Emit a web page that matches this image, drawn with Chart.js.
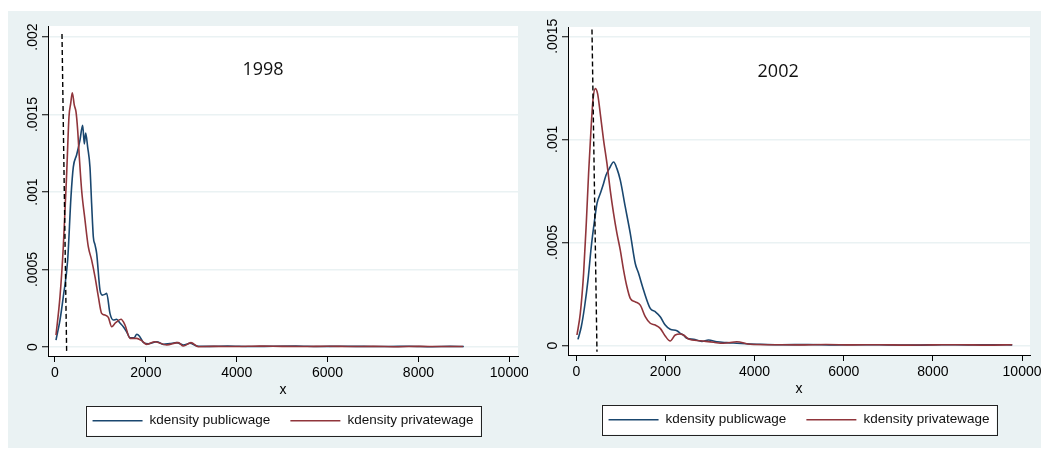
<!DOCTYPE html>
<html>
<head>
<meta charset="utf-8">
<script src="https://cdn.jsdelivr.net/npm/chart.js@4"></script>
<style>
  body { margin: 0; background: #fff; width: 1041px; height: 450px; position: relative; overflow: hidden; }
  #bg { position: absolute; left: 8px; top: 11px; width: 1033px; height: 437px; background: #eaf2f3; }
  .panel { position: absolute; top: 11px; height: 437px; }
  #p1 { left: 8px; width: 520px; }
  #p2 { left: 528px; width: 513px; }
</style>
</head>
<body>
<div id="bg"></div>
<div class="panel" id="p1"><canvas id="c1998"></canvas></div>
<div class="panel" id="p2"><canvas id="c2002"></canvas></div>
<script>
var xTicks = [0, 2000, 4000, 6000, 8000, 10000];
var yTicks1998 = [0, 0.0005, 0.001, 0.0015, 0.002];
var yTicks2002 = [0, 0.0005, 0.001, 0.0015];
var seriesNames = ['kdensity publicwage', 'kdensity privatewage'];

// 1998
var pub98X = [22, 110, 183, 279, 352, 403, 477, 550, 609, 646, 675, 719, 770, 807, 844, 880, 917, 990, 1042, 1100, 1137, 1210, 1284, 1357, 1430, 1504, 1577, 1651, 1740, 1800, 1860, 1944, 2054, 2238, 2385, 2530, 2679, 2825, 2971, 3119, 3400, 3800, 4300, 4800, 5300, 5800, 6300, 6800, 7300, 7800, 8300, 8700, 9000];
var pub98Y = [0.000045, 0.000174, 0.000325, 0.000561, 0.00097, 0.00116, 0.00124, 0.001335, 0.00143, 0.00131, 0.00138, 0.00129, 0.00116, 0.00092, 0.00071, 0.00066, 0.000604, 0.000368, 0.000335, 0.00034, 0.000346, 0.000217, 0.000174, 0.000179, 0.000155, 0.000131, 0.0000987, 0.00006, 0.00006, 0.000082, 0.00007, 0.00003, 0.00002, 0.000034, 0.000017, 0.000022, 0.000028, 0.000013, 0.000024, 0.000007, 0.000004, 0.000006, 0.000003, 0.000005, 0.000006, 0.000003, 0.000005, 0.000004, 0.000003, 0.000005, 0.000002, 0.000004, 0.000003];
var priv98X = [22, 110, 183, 257, 308, 345, 381, 425, 462, 499, 535, 587, 660, 733, 807, 880, 954, 1027, 1100, 1174, 1247, 1335, 1453, 1541, 1651, 1798, 1908, 2018, 2201, 2458, 2714, 2825, 2993, 3154, 3500, 4000, 4500, 5000, 5500, 6000, 6500, 7000, 7500, 8000, 8500, 8980];
var priv98Y = [0.000077, 0.000325, 0.000647, 0.00112, 0.001486, 0.00157, 0.00164, 0.00156, 0.001518, 0.0014, 0.001228, 0.00101, 0.00082, 0.000647, 0.000561, 0.000454, 0.000325, 0.000217, 0.000206, 0.000191, 0.000131, 0.000157, 0.000179, 0.000142, 0.000056, 0.000056, 0.000041, 0.000017, 0.000034, 0.000013, 0.000028, 0.0000065, 0.000028, 0.000002, 0.000004, 0.000003, 0.000006, 0.000004, 0.000003, 0.000005, 0.000003, 0.000004, 0.000002, 0.000004, 0.000003, 0.000003];
var cut98X = [154, 257];
var cut98Y = [0.00202, -0.00004];

// 2002
var pub02X = [38, 112, 186, 262, 336, 410, 464, 538, 612, 666, 740, 837, 912, 987, 1099, 1211, 1323, 1397, 1509, 1659, 1771, 1883, 1995, 2107, 2257, 2332, 2406, 2481, 2630, 2818, 2966, 3154, 3379, 3603, 3901, 4125, 4600, 5200, 5800, 6400, 7000, 7600, 8200, 8800, 9400, 9780];
var pub02Y = [0.00003, 0.000091, 0.000188, 0.000317, 0.000479, 0.000608, 0.000689, 0.000737, 0.000786, 0.000826, 0.000858, 0.00089, 0.000858, 0.000802, 0.000672, 0.000544, 0.000398, 0.00035, 0.000269, 0.00018, 0.000164, 0.00014, 0.0000993, 0.0000785, 0.0000717, 0.000059, 0.00005, 0.000035, 0.00003, 0.00002, 0.000027, 0.000018, 0.000014, 0.000011, 0.000007, 0.000006, 0.000004, 0.000005, 0.000003, 0.000004, 0.000003, 0.000002, 0.000004, 0.000003, 0.000004, 0.000003];
var priv02X = [15, 90, 164, 224, 276, 329, 374, 426, 478, 538, 612, 688, 762, 837, 912, 987, 1061, 1136, 1211, 1323, 1435, 1547, 1659, 1771, 1883, 1995, 2107, 2220, 2332, 2406, 2518, 2780, 3079, 3303, 3603, 3901, 4400, 5000, 5600, 6200, 6800, 7400, 8000, 8600, 9200, 9780];
var priv02Y = [0.000051, 0.000156, 0.00035, 0.000592, 0.000834, 0.001044, 0.00119, 0.001246, 0.001222, 0.001125, 0.000996, 0.000883, 0.000753, 0.00064, 0.000544, 0.000463, 0.000366, 0.000285, 0.000229, 0.000212, 0.000196, 0.00014, 0.000108, 0.0000993, 0.0000833, 0.000046, 0.000022, 0.000051, 0.000056, 0.000051, 0.0000315, 0.0000233, 0.0000155, 0.0000107, 0.0000184, 0.0000058, 0.000004, 0.000003, 0.000005, 0.000003, 0.000004, 0.000002, 0.000003, 0.000004, 0.000002, 0.000004];
var cut02X = [352, 464];
var cut02Y = [0.001533, -0.00003];

function pts(xs, ys) {
  return xs.map(function (x, i) { return { x: x, y: ys[i] }; });
}

function tickText(v) {
  if (v === 0) return '0';
  return String(+v.toFixed(4)).replace(/^0/, '');
}

var axisFont = { family: "'Liberation Sans', Arial, sans-serif", size: 14 };
var legendFont = "13.5px 'Liberation Sans', Arial, sans-serif";

var plotBg = {
  id: 'plotBg',
  beforeDraw: function (chart) {
    var a = chart.chartArea, ctx = chart.ctx;
    ctx.save();
    ctx.fillStyle = '#ffffff';
    ctx.fillRect(a.left, a.top, a.right - a.left, a.bottom - a.top);
    ctx.restore();
  }
};

var yearLabel = {
  id: 'yearLabel',
  afterDatasetsDraw: function (chart, args, opts) {
    var ctx = chart.ctx;
    ctx.save();
    ctx.font = "18px 'Open Sans', sans-serif";
    ctx.fillStyle = '#111';
    ctx.textAlign = 'center';
    ctx.textBaseline = 'middle';
    ctx.fillText(opts.text, chart.scales.x.getPixelForValue(opts.x), chart.scales.y.getPixelForValue(opts.y));
    ctx.restore();
  }
};

// legend in a framed box under the x title, centred on the plot region
var boxLegend = {
  id: 'boxLegend',
  afterDraw: function (chart, args, opts) {
    var ctx = chart.ctx, a = chart.chartArea;
    var sets = chart.data.datasets.slice(0, 2);
    ctx.save();
    ctx.font = legendFont;
    var lineLen = 50, gap = 7, between = 20, pad = 7;
    var widths = sets.map(function (d) { return ctx.measureText(d.label).width; });
    var total = pad * 2 + (lineLen + gap) * 2 + widths[0] + widths[1] + between;
    var left = (a.left + a.right) / 2 - total / 2;
    var top = a.bottom + opts.top;
    var h = opts.height;
    ctx.fillStyle = '#ffffff';
    ctx.fillRect(left, top, total, h);
    ctx.strokeStyle = '#222';
    ctx.lineWidth = 1;
    ctx.strokeRect(Math.round(left) + 0.5, Math.round(top) + 0.5, Math.round(total), Math.round(h));
    var cy = top + h / 2;
    var x = left + pad;
    ctx.textBaseline = 'middle';
    ctx.textAlign = 'left';
    sets.forEach(function (d, i) {
      ctx.strokeStyle = d.borderColor;
      ctx.lineWidth = 1.6;
      ctx.beginPath();
      ctx.moveTo(x, cy);
      ctx.lineTo(x + lineLen, cy);
      ctx.stroke();
      x += lineLen + gap;
      ctx.fillStyle = '#111';
      ctx.fillText(d.label, x, cy);
      x += widths[i] + between;
    });
    ctx.restore();
  }
};

function makeChart(id, cfg) {
  return new Chart(document.getElementById(id), {
    type: 'line',
    data: {
      datasets: [
        { label: seriesNames[0], data: pts(cfg.pubX, cfg.pubY), borderColor: '#1a476f', borderWidth: 1.6, pointRadius: 0, cubicInterpolationMode: 'monotone', order: 3 },
        { label: seriesNames[1], data: pts(cfg.privX, cfg.privY), borderColor: '#90353b', borderWidth: 1.6, pointRadius: 0, cubicInterpolationMode: 'monotone', order: 2 },
        { label: 'cutoff', data: pts(cfg.cutX, cfg.cutY), borderColor: '#000', borderWidth: 1.4, borderDash: [5, 3], pointRadius: 0, order: 1 }
      ]
    },
    options: {
      responsive: true,
      maintainAspectRatio: false,
      animation: false,
      events: [],
      layout: { padding: { top: cfg.padTop, right: cfg.padRight, left: 0, bottom: 0 } },
      plugins: {
        legend: { display: false },
        tooltip: { enabled: false },
        yearLabel: { text: cfg.year, x: cfg.yearX, y: cfg.yearY },
        boxLegend: { top: 50, height: 29.5 }
      },
      scales: {
        x: {
          type: 'linear',
          min: cfg.xMin,
          max: cfg.xMax,
          afterBuildTicks: function (s) { s.ticks = xTicks.map(function (v) { return { value: v }; }); },
          afterFit: function (s) { s.height = cfg.xAxisH; s.paddingLeft = 0; s.paddingRight = 0; },
          grid: { drawOnChartArea: false, tickLength: 6, tickColor: '#000', tickWidth: 1 },
          border: { color: '#000', width: 1 },
          ticks: { font: axisFont, color: '#000', padding: 3, maxRotation: 0, callback: function (v) { return String(v); } },
          title: { display: true, text: 'x', font: axisFont, color: '#000', padding: { top: 0, bottom: cfg.titlePad } }
        },
        y: {
          type: 'linear',
          min: cfg.yMin,
          max: cfg.yMax,
          afterBuildTicks: function (s) { s.ticks = cfg.yTicks.map(function (v) { return { value: v }; }); },
          afterFit: function (s) { s.width = 40; s.paddingTop = 0; s.paddingBottom = 0; },
          grid: { color: '#eaf2f3', lineWidth: 1.5, tickLength: 6, tickColor: '#000', tickWidth: 1 },
          border: { color: '#000', width: 1 },
          ticks: { font: axisFont, color: '#000', minRotation: 90, maxRotation: 90, crossAlign: 'center', padding: -8.5, callback: tickText }
        }
      }
    },
    plugins: [plotBg, yearLabel, boxLegend]
  });
}

makeChart('c1998', {
  pubX: pub98X, pubY: pub98Y, privX: priv98X, privY: priv98Y, cutX: cut98X, cutY: cut98Y,
  year: '1998', yearX: 4578, yearY: 0.001787,
  xMin: -154, xMax: 10192, yMin: -0.000058, yMax: 0.002071, yTicks: yTicks1998,
  padTop: 15, padRight: 10, xAxisH: 92, titlePad: 49
});

makeChart('c2002', {
  pubX: pub02X, pubY: pub02Y, privX: priv02X, privY: priv02Y, cutX: cut02X, cutY: cut02Y,
  year: '2002', yearX: 4529, yearY: 0.001325,
  xMin: -186, xMax: 10179, yMin: -0.000046, yMax: 0.001545, yTicks: yTicks2002,
  padTop: 16, padRight: 11, xAxisH: 93, titlePad: 50
});
</script>
</body>
</html>
